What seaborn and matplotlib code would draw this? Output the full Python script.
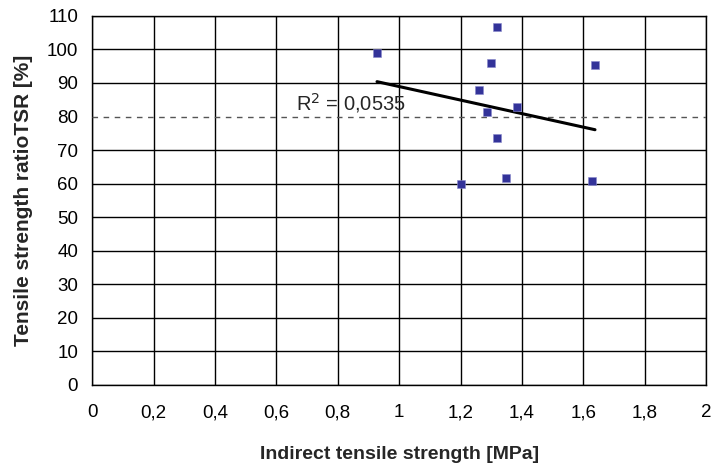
import matplotlib
matplotlib.use('Agg')
import matplotlib.pyplot as plt
import seaborn as sns
import pandas as pd
import numpy as np

sns.set_style('white')
plt.rcParams['font.family'] = ['Liberation Sans', 'DejaVu Sans']

# data
its = [0.928, 1.319, 1.300, 1.638, 1.261, 1.384, 1.287, 1.319, 1.202, 1.349, 1.629]
tsr = [99.0, 106.7, 96.0, 95.4, 87.9, 82.9, 81.4, 73.6, 59.9, 61.7, 60.8]
x_ticks = [0, 0.2, 0.4, 0.6, 0.8, 1, 1.2, 1.4, 1.6, 1.8, 2]
x_labels = ['0', '0,2', '0,4', '0,6', '0,8', '1', '1,2', '1,4', '1,6', '1,8', '2']
y_ticks = list(range(0, 111, 10))
r2_text = 'R$^2$ = 0,0535'
limit = 80

df = pd.DataFrame({'its': its, 'tsr': tsr})

fig = plt.figure(figsize=(7.14, 4.66), dpi=100)
ax = fig.add_axes([0.129, 0.174, 0.86, 0.792])

sns.regplot(data=df, x='its', y='tsr', ax=ax, scatter=False, ci=None,
            color='black', line_kws={'linewidth': 2.2, 'zorder': 4})
sns.scatterplot(data=df, x='its', y='tsr', ax=ax, marker='s', s=32,
                color='#333399', edgecolor='#8888cc', linewidth=0.4, zorder=5)

ax.set_xlim(0, 2)
ax.set_ylim(0, 110)
ax.set_xticks(x_ticks, x_labels)
ax.set_yticks(y_ticks)
ax.grid(True, color='black', linewidth=1)
ax.yaxis.get_gridlines()[y_ticks.index(limit)].set_visible(False)
ax.axhline(limit, color='#555555', linestyle=(0, (4, 4)), linewidth=1, zorder=3)

for s in ax.spines.values():
    s.set_color('black')
    s.set_linewidth(1)
ax.tick_params(direction='inout', length=8, width=1, labelsize=13.5, colors='black', pad=6)
ax.tick_params(axis='x', pad=10)

ax.text(0.664, 80.3, r2_text, fontsize=14.5, va='bottom', ha='left')

ax.set_xlabel('Indirect tensile strength [MPa]', fontsize=14, fontweight='bold', labelpad=18)
ax.set_ylabel('Tensile strength ratioTSR [%]', fontsize=15, fontweight='bold', labelpad=10)

fig.savefig('out.png', dpi=100)
